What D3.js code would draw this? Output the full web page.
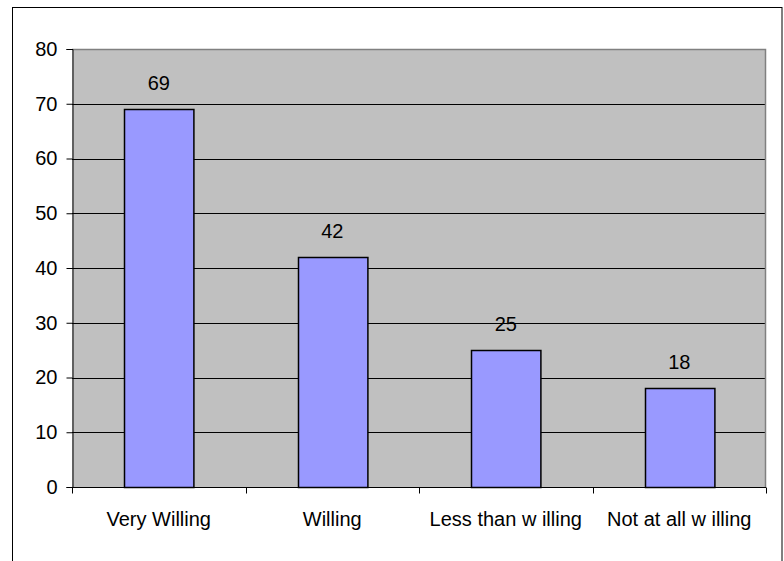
<!DOCTYPE html>
<html>
<head>
<meta charset="utf-8">
<script src="https://cdn.jsdelivr.net/npm/d3@7"></script>
<style>
  html, body { margin: 0; padding: 0; background: #fff; }
  svg { display: block; font-family: Arial, "Liberation Sans", sans-serif; }
</style>
</head>
<body>
<svg id="chart" width="784" height="561"></svg>
<script>
// Responses by willingness level
const categories = ["Very Willing", "Willing", "Less than w illing", "Not at all w illing"];
const values = [69, 42, 25, 18];
const yTicks = [0, 10, 20, 30, 40, 50, 60, 70, 80];

const FONT = 20;
const svg = d3.select("#chart");
const plot = { left: 72, top: 49, right: 766, bottom: 487 };

// Outer chart frame
svg.append("rect")
  .attr("x", 12.5).attr("y", 7.5)
  .attr("width", 769.5).attr("height", 600)
  .attr("fill", "#fff").attr("stroke", "#000").attr("stroke-width", 1);

const x = d3.scaleBand()
  .domain(categories)
  .range([plot.left, plot.right])
  .paddingInner(0.6).paddingOuter(0.3);

const xBand = d3.scaleBand().domain(categories).range([plot.left, plot.right]);

const y = d3.scaleLinear().domain([0, 80]).range([plot.bottom, plot.top]);

// Plot background
svg.append("rect")
  .attr("x", plot.left).attr("y", plot.top)
  .attr("width", plot.right - plot.left).attr("height", plot.bottom - plot.top)
  .attr("fill", "#C0C0C0");

// Horizontal gridlines
svg.append("g")
  .selectAll("line")
  .data(yTicks.filter(t => t > 0 && t < 80))
  .join("line")
  .attr("x1", plot.left).attr("x2", plot.right)
  .attr("y1", d => Math.round(y(d)) + 0.5).attr("y2", d => Math.round(y(d)) + 0.5)
  .attr("stroke", "#000").attr("stroke-width", 1);

// Plot-area border (top and right)
svg.append("path")
  .attr("d", `M${plot.left},${plot.top + 0.5}H${plot.right - 0.5}V${plot.bottom}`)
  .attr("fill", "none").attr("stroke", "#808080").attr("stroke-width", 1.5);

// Bars
svg.append("g")
  .selectAll("rect")
  .data(values)
  .join("rect")
  .attr("x", (d, i) => Math.round(x(categories[i])) + 0.5)
  .attr("y", d => Math.round(y(d)) + 0.5)
  .attr("width", x.bandwidth())
  .attr("height", d => Math.round(y(0)) - Math.round(y(d)))
  .attr("fill", "#9999FF")
  .attr("stroke", "#000").attr("stroke-width", 1.5);

// Value labels
svg.append("g")
  .selectAll("text")
  .data(values)
  .join("text")
  .attr("x", (d, i) => x(categories[i]) + x.bandwidth() / 2)
  .attr("y", d => y(d) - 19)
  .attr("text-anchor", "middle")
  .attr("font-size", FONT)
  .attr("fill", "#000")
  .text(d => d);

// Y axis
const yAxis = d3.axisLeft(y).tickValues(yTicks).tickSize(6).tickPadding(9);
const gy = svg.append("g")
  .attr("transform", `translate(${plot.left + 0.5},0)`)
  .call(yAxis);
gy.select(".domain").attr("stroke", "#000");
gy.selectAll(".tick line").attr("stroke", "#000");
gy.selectAll(".tick text")
  .attr("font-size", FONT).attr("fill", "#000")
  .attr("font-family", "Arial, 'Liberation Sans', sans-serif");

// X axis: ticks at category boundaries
const gx = svg.append("g").attr("transform", `translate(0,${plot.bottom + 0.5})`);
gx.append("line")
  .attr("x1", plot.left).attr("x2", plot.right)
  .attr("stroke", "#000");
const bounds = categories.map(c => xBand(c)).concat([plot.right]);
gx.selectAll("line.tick")
  .data(bounds)
  .join("line")
  .attr("class", "tick")
  .attr("x1", d => Math.round(d) + 0.5).attr("x2", d => Math.round(d) + 0.5)
  .attr("y1", 0).attr("y2", 6)
  .attr("stroke", "#000");
gx.selectAll("text")
  .data(categories)
  .join("text")
  .attr("x", d => xBand(d) + xBand.bandwidth() / 2)
  .attr("y", 38)
  .attr("text-anchor", "middle")
  .attr("font-size", FONT)
  .attr("fill", "#000")
  .text(d => d);
</script>
</body>
</html>
